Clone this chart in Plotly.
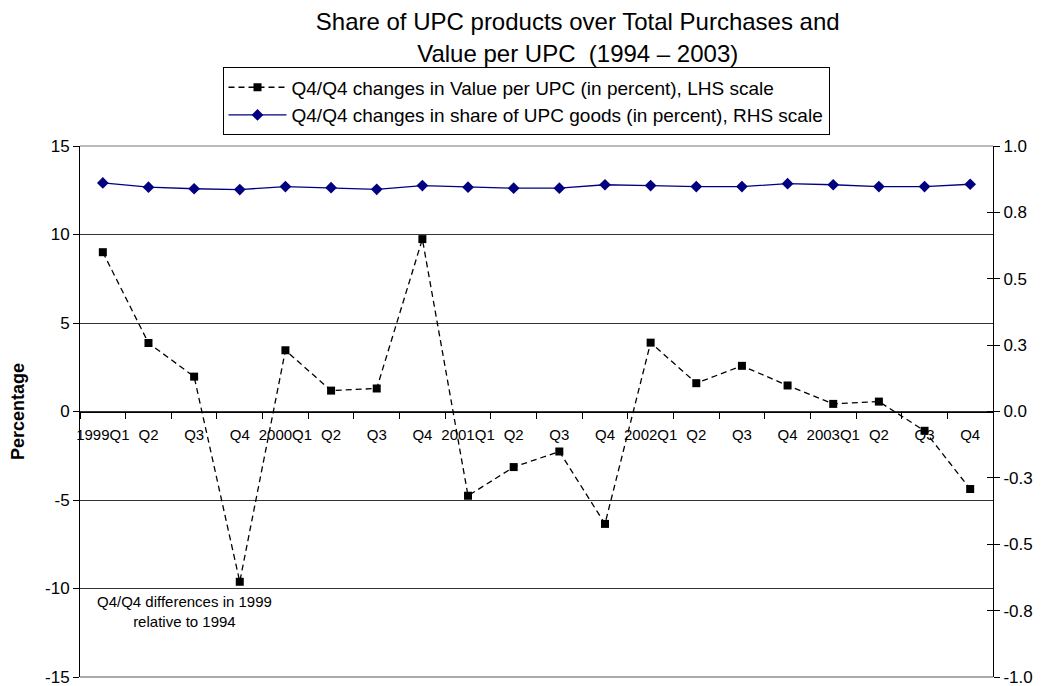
import plotly.graph_objects as go

categories = ["1999Q1", "1999Q2", "1999Q3", "1999Q4",
              "2000Q1", "2000Q2", "2000Q3", "2000Q4",
              "2001Q1", "2001Q2", "2001Q3", "2001Q4",
              "2002Q1", "2002Q2", "2002Q3", "2002Q4",
              "2003Q1", "2003Q2", "2003Q3", "2003Q4"]
tick_labels = ["1999Q1", "Q2", "Q3", "Q4",
               "2000Q1", "Q2", "Q3", "Q4",
               "2001Q1", "Q2", "Q3", "Q4",
               "2002Q1", "Q2", "Q3", "Q4",
               "2003Q1", "Q2", "Q3", "Q4"]
value_per_upc = [9.0, 3.87, 1.97, -9.62,
                 3.46, 1.18, 1.30, 9.74,
                 -4.76, -3.14, -2.26, -6.35,
                 3.89, 1.60, 2.58, 1.47,
                 0.43, 0.56, -1.09, -4.38]
share_upc = [0.861, 0.845, 0.839, 0.836,
             0.847, 0.843, 0.837, 0.851,
             0.845, 0.841, 0.841, 0.854,
             0.851, 0.847, 0.847, 0.858,
             0.854, 0.847, 0.847, 0.856]
left_tickvals = [-15, -10, -5, 0, 5, 10, 15]
left_ticktext = ["-15", "-10", "-5", "0", "5", "10", "15"]
right_tickvals = [-1.0, -0.75, -0.5, -0.25, 0.0, 0.25, 0.5, 0.75, 1.0]
right_ticktext = ["-1.0", "-0.8", "-0.5", "-0.3", "0.0", "0.3", "0.5", "0.8", "1.0"]

FONT = "Arial, Liberation Sans, sans-serif"

# the page body adds an 8px margin, so the figure is sized to fit the window
W, H = 1034, 678

fig = go.Figure()
fig.add_trace(go.Scatter(
    x=categories, y=value_per_upc, mode="lines+markers",
    name="Q4/Q4 changes in Value per UPC (in percent), LHS scale",
    line=dict(color="black", width=1.3, dash="6px,4px"),
    marker=dict(symbol="square", size=8, color="black"),
    yaxis="y"))
fig.add_trace(go.Scatter(
    x=categories, y=share_upc, mode="lines+markers",
    name="Q4/Q4 changes in share of UPC goods (in percent), RHS scale",
    line=dict(color="#000080", width=1.3),
    marker=dict(symbol="diamond", size=9, color="#000080"),
    yaxis="y2"))
# helper axis for the inner half of the right-axis tick crosses
fig.add_trace(go.Scatter(x=[categories[0]], y=[None], yaxis="y3",
                         showlegend=False, hoverinfo="skip"))

fig.update_layout(
    width=W, height=H,
    margin=dict(l=72, r=49, t=138, b=9, autoexpand=False),
    paper_bgcolor="white", plot_bgcolor="white",
    font=dict(family=FONT, color="black", size=15),
    title=dict(text="Share of UPC products over Total Purchases and<br>Value per UPC  (1994 \u2013 2003)",
               x=0.551, xref="container", xanchor="center",
               y=0.967, yref="container", yanchor="top",
               font=dict(size=24, family=FONT)),
    showlegend=True,
    legend=dict(x=0.4885, xanchor="center", y=1.148, yanchor="top",
                bordercolor="black", borderwidth=1, bgcolor="white",
                itemwidth=58,
                font=dict(size=19, family=FONT), tracegroupgap=0),
    xaxis=dict(type="category", categoryorder="array", categoryarray=categories,
               tickmode="array", tickvals=categories, ticktext=tick_labels,
               anchor="free", position=0.5, range=[-0.5, 19.5],
               showline=True, linecolor="black", linewidth=1,
               ticks="outside", tickson="boundaries", ticklen=6, tickcolor="black",
               ticklabelstandoff=9, tickangle=0, automargin=False,
               showgrid=False, zeroline=False, tickfont=dict(size=15)),
    yaxis=dict(range=[-15, 15], tickmode="array",
               tickvals=left_tickvals, ticktext=left_ticktext,
               showline=True, linecolor="black", linewidth=1,
               ticks="outside", ticklen=6, tickcolor="black",
               showgrid=True, gridcolor="#333333", gridwidth=1,
               zeroline=False, tickfont=dict(size=17), automargin=False,
               ticklabeloverflow="allow",
               title=dict(text="<b>Percentage</b>", font=dict(size=18), standoff=16)),
    yaxis2=dict(range=[-1, 1], overlaying="y", side="right",
                tickmode="array", tickvals=right_tickvals, ticktext=right_ticktext,
                showline=True, linecolor="black", linewidth=1,
                ticks="outside", ticklen=6, tickcolor="black", automargin=False,
                ticklabeloverflow="allow",
                showgrid=False, zeroline=False, tickfont=dict(size=17)),
    yaxis3=dict(range=[-1, 1], overlaying="y", side="right",
                tickmode="array", tickvals=right_tickvals,
                showticklabels=False, showline=False, automargin=False,
                ticks="inside", ticklen=6, tickcolor="black",
                showgrid=False, zeroline=False),
    shapes=[dict(type="line", xref="paper", yref="paper", x0=0, x1=1, y0=1, y1=1,
                 line=dict(color="#777777", width=1), layer="below"),
            dict(type="line", xref="paper", yref="paper", x0=0, x1=1, y0=0, y1=0,
                 line=dict(color="#555555", width=1), layer="below")],
    annotations=[dict(text="Q4/Q4 differences in 1999<br>relative to 1994",
                      xref="paper", yref="y", x=0.115, y=-10.15,
                      xanchor="center", yanchor="top", showarrow=False,
                      align="center", font=dict(size=15, family=FONT))],
)

fig.write_html("out.html")
